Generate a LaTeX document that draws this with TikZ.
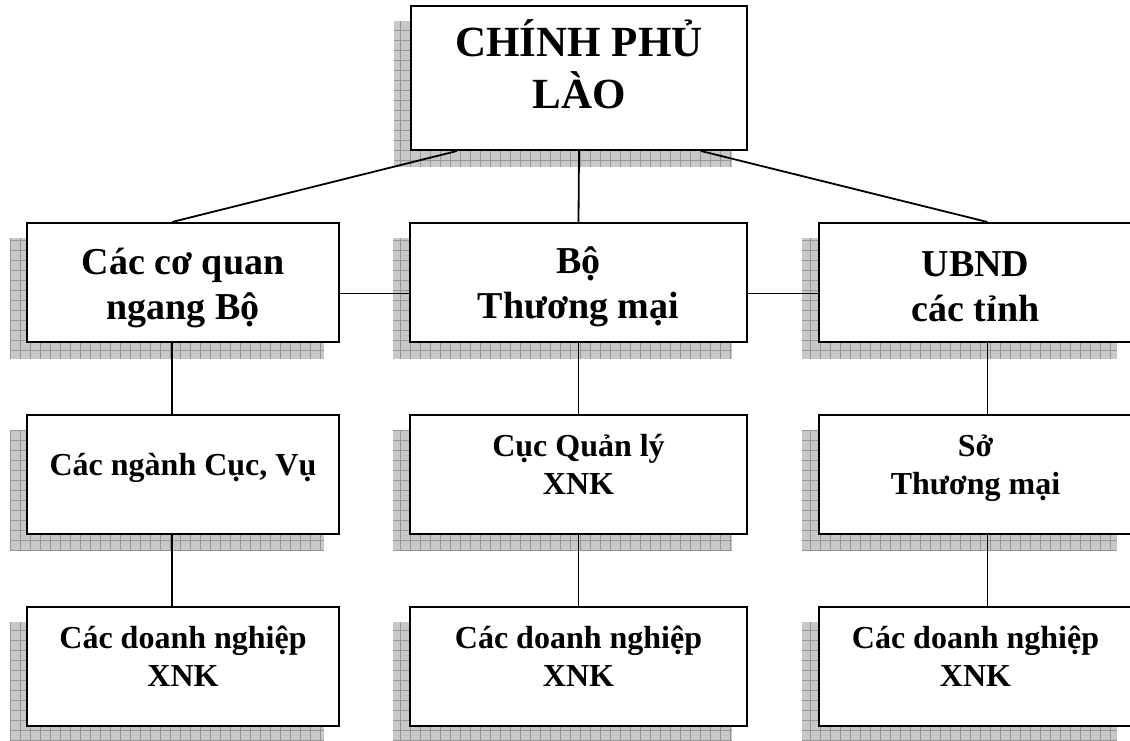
\documentclass[tikz,border=0pt]{standalone}
\usepackage{fontspec}
\setmainfont{Liberation Serif}
\usetikzlibrary{backgrounds}
\begin{document}
\begin{tikzpicture}[x=1pt,y=-1pt,
  box/.style={draw,fill=white,line width=2pt,minimum width=312pt,minimum height=119pt},
  link/.style={line width=1.8pt},
  txt/.style={font=\bfseries\fontsize{32}{38}\selectfont,align=center,inner sep=0pt},
  bigtxt/.style={font=\bfseries\fontsize{38}{45}\selectfont,align=center,inner sep=0pt}]
\definecolor{shadefill}{RGB}{200,200,200}
\definecolor{shadegrid}{RGB}{150,150,150}
\useasboundingbox (0,0) rectangle (1130,740);
\node[box,minimum width=336pt,minimum height=144pt] (gov) at (579,78) {};
\node[box] (org) at (183,282.5) {};
\node[box,minimum width=337pt] (bo) at (578.5,282.5) {};
\node[box,minimum width=313pt] (ubnd) at (975.5,282.5) {};
\node[box] (nganh) at (183,474.5) {};
\node[box,minimum width=337pt] (cuc) at (578.5,474.5) {};
\node[box,minimum width=313pt] (so) at (975.5,474.5) {};
\node[box] (dn1) at (183,666.5) {};
\node[box,minimum width=337pt] (dn2) at (578.5,666.5) {};
\node[box,minimum width=313pt] (dn3) at (975.5,666.5) {};
\begin{scope}[on background layer]
  \foreach \n in {gov,org,bo,ubnd,nganh,cuc,so,dn1,dn2,dn3}
  { \begin{scope}
      \clip ([shift={(-16pt,-16pt)}]\n.south west) rectangle ([shift={(-16pt,-16pt)}]\n.north east);
      \fill[shadefill] ([shift={(-16pt,-16pt)}]\n.south west) rectangle ([shift={(-16pt,-16pt)}]\n.north east);
      \draw[shadegrid,line width=0.7pt,step=10pt] ([shift={(-16pt,-16pt)}]\n.south west) grid ([shift={(-16pt,-16pt)}]\n.north east);
    \end{scope}}
\end{scope}
\node[txt,font=\bfseries\fontsize{43}{52}\selectfont] (govt) at ([yshift=14pt]gov) {CHÍNH PHỦ\\LÀO};
\node[bigtxt] (orgt) at ([yshift=-5pt]org) {Các cơ quan\\ngang Bộ};
\node[bigtxt] (bot) at ([yshift=-4pt]bo) {Bộ\\Thương mại};
\node[bigtxt] (ubndt) at ([yshift=-4pt]ubnd) {UBND\\các tỉnh};
\node[txt] (nganht) at ([yshift=7pt]nganh) {Các ngành Cục, Vụ};
\node[txt] (cuct) at ([yshift=10pt]cuc) {Cục Quản lý\\XNK};
\node[txt] (sot) at ([yshift=6pt]so) {Sở\\Thương mại};
\node[txt] (dn1t) at ([yshift=10pt]dn1) {Các doanh nghiệp\\XNK};
\node[txt] (dn2t) at ([yshift=10pt]dn2) {Các doanh nghiệp\\XNK};
\node[txt] (dn3t) at ([yshift=10pt]dn3) {Các doanh nghiệp\\XNK};
\draw[link] ([xshift=47pt]gov.south west) -- ([xshift=-11pt]org.north);
\draw[link] (gov.south) -- (bo.north);
\draw[link] ([xshift=-47pt]gov.south east) -- ([xshift=12pt]ubnd.north);
\draw[link] ([yshift=-11pt]org.east) -- ([yshift=-11pt]bo.west);
\draw[link] ([yshift=-11pt]bo.east) -- ([yshift=-11pt]ubnd.west);
\draw[link] ([xshift=-11pt]org.south) -- ([xshift=-11pt]nganh.north);
\draw[link] ([xshift=-11pt]nganh.south) -- ([xshift=-11pt]dn1.north);
\draw[link] (bo.south) -- (cuc.north);
\draw[link] (cuc.south) -- (dn2.north);
\draw[link] ([xshift=12pt]ubnd.south) -- ([xshift=12pt]so.north);
\draw[link] ([xshift=12pt]so.south) -- ([xshift=12pt]dn3.north);
\end{tikzpicture}
\end{document}
